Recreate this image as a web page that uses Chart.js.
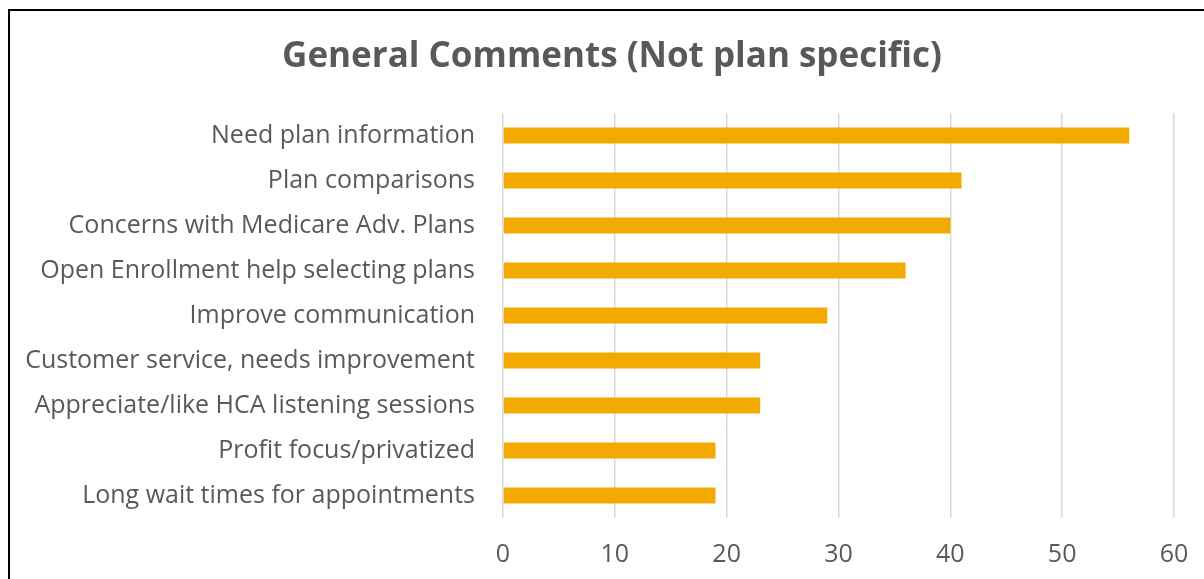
<!DOCTYPE html>
<html>
<head>
<meta charset="utf-8">
<script src="https://cdn.jsdelivr.net/npm/chart.js@4/dist/chart.umd.min.js"></script>
<style>
  html, body { margin: 0; padding: 0; background: #fff; overflow: hidden; }
  #wrap { position: relative; width: 1204px; height: 579px; }
  #frame { position: absolute; left: 8px; top: 9px; width: 1300px; height: 700px; border: 2px solid #000; box-sizing: border-box; }
  #myChart { position: absolute; left: 0; top: 0; }
</style>
</head>
<body>
<div id="wrap">
  <div id="frame"></div>
  <canvas id="myChart" width="1204" height="579"></canvas>
</div>
<script>
// chart data
const categories = [
  "Need plan information",
  "Plan comparisons",
  "Concerns with Medicare Adv. Plans",
  "Open Enrollment help selecting plans",
  "Improve communication",
  "Customer service, needs improvement",
  "Appreciate/like HCA listening sessions",
  "Profit focus/privatized",
  "Long wait times for appointments"
];
const counts = [56, 41, 40, 36, 29, 23, 23, 19, 19];
const chartTitle = "General Comments (Not plan specific)";
const axisMin = 0, axisMax = 60, axisStep = 10;

const textColor = "#595959";
const fontFamily = "'Open Sans', 'Noto Sans', sans-serif";

// nudge the title so it's centred on the framed box, not the canvas
const titleShift = {
  id: "titleShift",
  afterLayout(chart) {
    if (chart.titleBlock) chart.titleBlock.left = 50;
  }
};

new Chart("myChart", {
  type: "bar",
  data: {
    labels: categories,
    datasets: [{
      data: counts,
      backgroundColor: "#F2A900",
      borderWidth: 0,
      categoryPercentage: 1,
      barPercentage: 0.355
    }]
  },
  options: {
    indexAxis: "y",
    responsive: false,
    animation: false,
    layout: { padding: { left: 0, right: 30, top: 0, bottom: 0 } },
    plugins: {
      legend: { display: false },
      tooltip: { enabled: false },
      title: {
        display: true,
        text: chartTitle,
        color: textColor,
        font: { family: fontFamily, size: 35, weight: "bold" },
        padding: { top: 36, bottom: 35 }
      }
    },
    scales: {
      x: {
        min: axisMin,
        max: axisMax,
        ticks: { stepSize: axisStep, color: textColor, font: { family: fontFamily, size: 25 }, padding: 22 },
        grid: { color: "#d9d9d9", lineWidth: 1.5, drawTicks: false },
        border: { display: false },
        afterFit: function(scale) {
          scale.height = 579 - 518;
          scale.paddingLeft = 0;
          scale.paddingRight = 0;
        }
      },
      y: {
        ticks: { color: textColor, font: { family: fontFamily, size: 25 }, padding: 28 },
        grid: { display: false, drawTicks: false },
        border: { display: false },
        afterFit: function(scale) { scale.width = 503; }
      }
    }
  },
  plugins: [titleShift]
});
</script>
</body>
</html>
